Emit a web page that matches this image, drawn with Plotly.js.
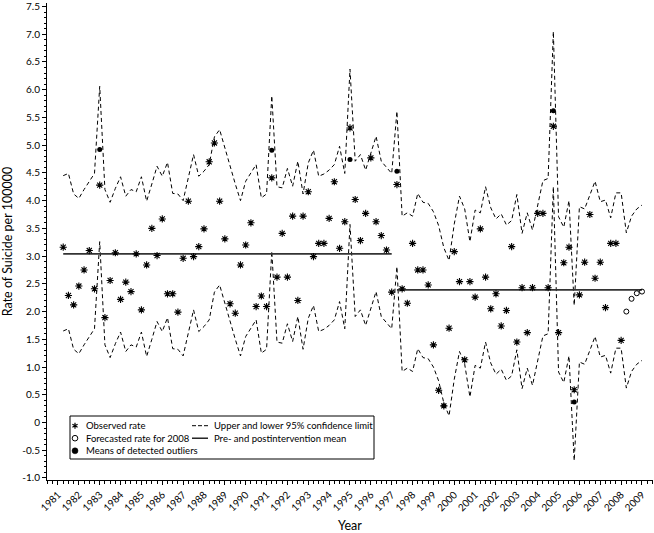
<!DOCTYPE html>
<html>
<head>
<meta charset="utf-8">
<script src="https://cdn.plot.ly/plotly-3.0.1.min.js"></script>
<style>
  html, body { margin: 0; padding: 0; background: #fff; }
  #plot-container { width: 654px; height: 533px; }
</style>
</head>
<body>
<div id="plot-container"></div>
<script>
// Quarterly suicide rate, 1981 Q1 .. 2008 Q4.
// Quarter k (1-based) is drawn at startYear + k/4.
const startYear = 1981;

const observedRate = [
    3.16, 2.29, 2.12, 2.46, 2.75, 3.10, 2.41, 4.28, 1.89, 2.56,
    3.06, 2.22, 2.53, 2.36, 3.04, 2.03, 2.84, 3.50, 3.01, 3.67,
    2.32, 2.32, 1.99, 2.96, 3.99, 2.99, 3.17, 3.49, 4.70, 5.04,
    3.99, 3.31, 2.14, 1.97, 2.84, 3.20, 3.60, 2.09, 2.28, 2.09,
    4.41, 2.62, 3.41, 2.62, 3.72, 2.20, 3.72, 4.16, 2.99, 3.23,
    3.23, 3.68, 4.34, 3.14, 3.62, 5.31, 4.02, 3.28, 3.77, 4.77,
    3.62, 3.37, 3.11, 2.35, 4.29, 2.41, 2.15, 3.23, 2.75, 2.75,
    2.48, 1.40, 0.58, 0.30, 1.70, 3.08, 2.54, 1.13, 2.54, 2.26,
    3.49, 2.62, 2.05, 2.32, 1.74, 2.02, 3.17, 1.45, 2.43, 1.62,
    2.43, 3.77, 3.77, 2.43, 5.34, 1.62, 2.88, 3.16, 0.59, 2.30,
    2.89, 3.75, 2.60, 2.89, 2.07, 3.23, 3.23, 1.48
];

// 2008 forecast (quarters 109..112)
const forecastQuarter = [109, 110, 111, 112];
const forecastRate = [2.00, 2.23, 2.33, 2.36];

const upperLimit = [
    4.45, 4.49, 4.12, 4.04, 4.20, 4.35, 4.49, 6.06, 4.20, 3.97,
    4.22, 4.43, 4.08, 4.20, 4.16, 4.43, 3.99, 4.30, 4.62, 4.44,
    4.69, 4.13, 4.12, 4.00, 4.40, 4.83, 4.44, 4.53, 4.65, 5.15,
    5.28, 4.95, 4.59, 4.30, 4.00, 4.35, 4.50, 4.65, 4.05, 4.12,
    5.89, 4.25, 4.23, 4.58, 4.26, 4.71, 4.12, 4.68, 4.91, 4.44,
    4.48, 4.55, 4.65, 4.98, 4.49, 6.37, 4.71, 4.83, 4.55, 4.86,
    5.16, 4.71, 4.60, 4.49, 5.61, 3.72, 3.78, 3.72, 4.13, 3.97,
    3.95, 3.80, 3.55, 3.15, 2.92, 3.58, 4.08, 3.85, 3.26, 3.83,
    3.78, 4.25, 3.87, 3.67, 3.76, 3.56, 3.64, 4.11, 3.41, 3.78,
    3.47, 3.90, 4.36, 4.40, 7.05, 3.71, 3.52, 4.00, 2.11, 3.89,
    3.85, 4.10, 4.35, 3.98, 4.01, 3.69, 4.14, 4.14, 3.42, 3.72,
    3.85, 3.92
];

const lowerLimit = [
    1.65, 1.69, 1.32, 1.24, 1.40, 1.55, 1.69, 3.26, 1.40, 1.17,
    1.42, 1.63, 1.28, 1.40, 1.36, 1.63, 1.19, 1.50, 1.82, 1.64,
    1.89, 1.33, 1.32, 1.20, 1.60, 2.03, 1.64, 1.73, 1.85, 2.35,
    2.48, 2.15, 1.79, 1.50, 1.20, 1.55, 1.70, 1.85, 1.25, 1.32,
    3.09, 1.45, 1.43, 1.78, 1.46, 1.91, 1.32, 1.88, 2.11, 1.64,
    1.68, 1.75, 1.85, 2.18, 1.69, 3.57, 1.91, 2.03, 1.75, 2.06,
    2.36, 1.91, 1.80, 1.69, 2.81, 0.92, 0.98, 0.92, 1.33, 1.17,
    1.15, 1.00, 0.75, 0.35, 0.12, 0.78, 1.28, 1.05, 0.46, 1.03,
    0.98, 1.45, 1.07, 0.87, 0.96, 0.76, 0.84, 1.31, 0.61, 0.98,
    0.67, 1.10, 1.56, 1.60, 4.25, 0.91, 0.72, 1.20, -0.69, 1.09,
    1.05, 1.30, 1.55, 1.18, 1.21, 0.89, 1.34, 1.34, 0.62, 0.92,
    1.05, 1.12
];

// detected outliers: quarter index and fitted mean
const outlierQuarter = [8, 41, 56, 65, 74, 95, 99];
const outlierMean = [4.92, 4.91, 4.74, 4.53, 0.30, 5.62, 0.37];

// pre- and postintervention means (quarter ranges)
const preQuarters = [1, 64];
const preMean = 3.04;
const postQuarters = [65, 112];
const postMean = 2.39;

const yearTicks = [
    1981, 1982, 1983, 1984, 1985, 1986, 1987, 1988, 1989, 1990,
    1991, 1992, 1993, 1994, 1995, 1996, 1997, 1998, 1999, 2000,
    2001, 2002, 2003, 2004, 2005, 2006, 2007, 2008, 2009
];
const rateTicks = [-1, -0.5, 0, 0.5, 1, 1.5, 2, 2.5, 3, 3.5, 4, 4.5, 5, 5.5, 6, 6.5, 7, 7.5];
const rateTickText = ['-1.0', '-0.5', '0', '0.5', '1.0', '1.5', '2.0', '2.5', '3.0',
                      '3.5', '4.0', '4.5', '5.0', '5.5', '6.0', '6.5', '7.0', '7.5'];

const legendLeft = ['Observed rate', 'Forecasted rate for 2008', 'Means of detected outliers'];
const legendRight = ['Upper and lower 95% confidence limit', 'Pre- and postintervention mean'];

const FONT = 'Lato, "Open Sans", sans-serif';

function qx(k) { return startYear + k / 4; }

// plot box in pixels (for legend placement only)
const M = { l: 47, r: 1, t: 3, b: 53 };
const W = 654, H = 533;
const PW = W - M.l - M.r, PH = H - M.t - M.b;
function px(x) { return (x - M.l) / PW; }
function py(y) { return 1 - (y - M.t) / PH; }

function buildTraces() {
    const allX = upperLimit.map((_, i) => qx(i + 1));
    const obsX = observedRate.map((_, i) => qx(i + 1));
    const ciLine = { color: '#000', width: 1, dash: '4px,3px' };
    const meanLine = { color: '#333', width: 1.6 };

    return [
        { x: allX, y: upperLimit, mode: 'lines', type: 'scatter', line: ciLine, hoverinfo: 'skip' },
        { x: allX, y: lowerLimit, mode: 'lines', type: 'scatter', line: ciLine, hoverinfo: 'skip' },
        { x: preQuarters.map(qx), y: [preMean, preMean], mode: 'lines', type: 'scatter', line: meanLine },
        { x: postQuarters.map(qx), y: [postMean, postMean], mode: 'lines', type: 'scatter', line: meanLine },
        {
            x: obsX, y: observedRate, mode: 'markers', type: 'scatter',
            marker: { symbol: 'asterisk-open', size: 6, color: '#000', line: { color: '#000', width: 1.1 } }
        },
        {
            x: forecastQuarter.map(qx), y: forecastRate, mode: 'markers', type: 'scatter',
            marker: { symbol: 'circle-open', size: 5, color: '#000', line: { color: '#000', width: 1 } }
        },
        {
            x: outlierQuarter.map(qx), y: outlierMean, mode: 'markers', type: 'scatter',
            marker: { symbol: 'circle', size: 5, color: '#000' }
        }
    ];
}

function buildLegend() {
    const shapes = [], annotations = [];
    const rows = [425.7, 438.2, 450.8];

    shapes.push({
        type: 'rect', xref: 'paper', yref: 'paper',
        x0: px(70), x1: px(374), y0: py(459), y1: py(416),
        line: { color: '#000', width: 1 }, fillcolor: '#fff', layer: 'above'
    });

    // left column keys
    const base = { type: 'path', xref: 'paper', yref: 'paper', xsizemode: 'pixel', ysizemode: 'pixel', layer: 'above' };
    shapes.push(Object.assign({}, base, {
        xanchor: px(75), yanchor: py(rows[0]),
        path: 'M0,-3L0,3M-2.6,-1.5L2.6,1.5M-2.6,1.5L2.6,-1.5',
        line: { color: '#000', width: 1.2 }
    }));
    shapes.push({
        type: 'circle', xref: 'paper', yref: 'paper', xsizemode: 'pixel', ysizemode: 'pixel',
        xanchor: px(75), yanchor: py(rows[1]), x0: -2.8, x1: 2.8, y0: -2.8, y1: 2.8,
        line: { color: '#000', width: 1 }, fillcolor: '#fff', layer: 'above'
    });
    shapes.push({
        type: 'circle', xref: 'paper', yref: 'paper', xsizemode: 'pixel', ysizemode: 'pixel',
        xanchor: px(75), yanchor: py(rows[2]), x0: -3, x1: 3, y0: -3, y1: 3,
        line: { color: '#000', width: 0.5 }, fillcolor: '#000', layer: 'above'
    });

    // right column keys
    shapes.push({
        type: 'line', xref: 'paper', yref: 'paper', layer: 'above',
        x0: px(192), x1: px(208), y0: py(rows[0]), y1: py(rows[0]),
        line: { color: '#000', width: 1, dash: '4px,2px' }
    });
    shapes.push({
        type: 'line', xref: 'paper', yref: 'paper', layer: 'above',
        x0: px(192), x1: px(208), y0: py(rows[1]), y1: py(rows[1]),
        line: { color: '#000', width: 1.3 }
    });

    legendLeft.forEach((t, i) => annotations.push({
        text: t, xref: 'paper', yref: 'paper', x: px(84), y: py(rows[i]),
        xanchor: 'left', yanchor: 'middle', showarrow: false,
        font: { family: FONT, size: 9.5, color: '#000' }
    }));
    legendRight.forEach((t, i) => annotations.push({
        text: t, xref: 'paper', yref: 'paper', x: px(212), y: py(rows[i]),
        xanchor: 'left', yanchor: 'middle', showarrow: false,
        font: { family: FONT, size: 9.5, color: '#000' }
    }));

    return { shapes, annotations };
}

function render() {
    const legend = buildLegend();
    const layout = {
        width: W, height: H,
        margin: M,
        showlegend: false,
        paper_bgcolor: '#fff', plot_bgcolor: '#fff',
        font: { family: FONT, color: '#000' },
        xaxis: {
            range: [1980.473, 2009.528],
            showgrid: false, zeroline: false,
            showline: true, linecolor: '#000', linewidth: 1,
            tickmode: 'array', tickvals: yearTicks, ticktext: yearTicks.map(String),
            tickangle: -45, tickfont: { family: FONT, size: 10, color: '#000' },
            ticks: 'outside', ticklen: 4, tickwidth: 1, tickcolor: '#000',
            minor: { tickmode: 'linear', tick0: 1981, dtick: 0.25, ticks: 'outside', ticklen: 2.5, tickcolor: '#000', showgrid: false },
            title: { text: 'Year', font: { family: FONT, size: 12.5, color: '#000' }, standoff: 11 }
        },
        yaxis: {
            range: [-1.037, 7.563],
            showgrid: false, zeroline: false,
            showline: true, linecolor: '#000', linewidth: 1,
            tickmode: 'array', tickvals: rateTicks, ticktext: rateTickText,
            tickfont: { family: FONT, size: 10, color: '#000' },
            ticklabeloverflow: 'allow',
            ticks: 'outside', ticklen: 4, tickwidth: 1, tickcolor: '#000',
            minor: { tickmode: 'linear', tick0: 0, dtick: 0.1, ticks: 'outside', ticklen: 2, tickcolor: '#000', showgrid: false },
            title: { text: 'Rate of Suicide per 100000', font: { family: FONT, size: 12.5, color: '#000' }, standoff: 6 }
        },
        shapes: legend.shapes,
        annotations: legend.annotations,
        hovermode: false
    };
    Plotly.newPlot('plot-container', buildTraces(), layout, { displayModeBar: false, staticPlot: true });
}

render();
</script>
</body>
</html>
